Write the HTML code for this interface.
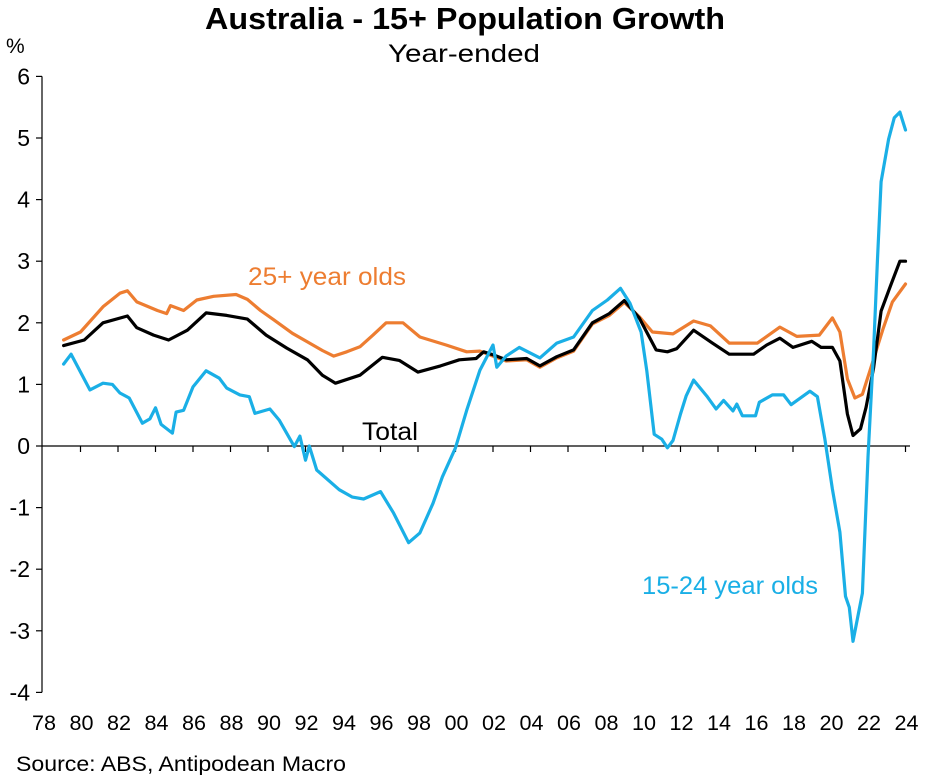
<!DOCTYPE html>
<html><head><meta charset="utf-8">
<style>
body{margin:0;background:#fff;}
svg{display:block;font-family:"Liberation Sans",Arial,sans-serif;}
</style></head>
<body>
<svg id="chart" width="930" height="775" viewBox="0 0 930 775" xmlns="http://www.w3.org/2000/svg">
<text x="465" y="29" text-anchor="middle" font-size="31" font-weight="bold" textLength="520" lengthAdjust="spacingAndGlyphs">Australia - 15+ Population Growth</text>
<text x="464" y="62" text-anchor="middle" font-size="25" textLength="152" lengthAdjust="spacingAndGlyphs">Year-ended</text>
<text x="6" y="53" font-size="21">%</text>
<g id="axes"></g>
<g id="series"></g>
<text x="248" y="285" font-size="25" fill="#ED7D31" textLength="158" lengthAdjust="spacingAndGlyphs">25+ year olds</text>
<text x="362" y="440" font-size="25" fill="#000" textLength="56" lengthAdjust="spacingAndGlyphs">Total</text>
<text x="642" y="594" font-size="25" fill="#1AAFE6" textLength="176" lengthAdjust="spacingAndGlyphs">15-24 year olds</text>
<text x="16" y="771" font-size="21" textLength="330" lengthAdjust="spacingAndGlyphs">Source: ABS, Antipodean Macro</text>
</svg>
<script>
const yTicks=[6,5,4,3,2,1,0,-1,-2,-3,-4];
const xTickYears=[1978,1980,1982,1984,1986,1988,1990,1992,1994,1996,1998,2000,2002,2004,2006,2008,2010,2012,2014,2016,2018,2020,2022,2024];
const xTickLabels=["78","80","82","84","86","88","90","92","94","96","98","00","02","04","06","08","10","12","14","16","18","20","22","24"];

const youthYears=[1979.1,1979.5,1980.5,1981.2,1981.7,1982.1,1982.6,1983.3,1983.7,1984.0,1984.3,1984.9,1985.1,1985.5,1986.0,1986.7,1987.4,1987.8,1988.5,1989.0,1989.3,1990.1,1990.6,1991.4,1991.7,1992.0,1992.2,1992.6,1993.8,1994.5,1995.1,1996.0,1996.7,1997.5,1998.1,1998.8,1999.3,2000.0,2000.6,2001.3,2002.0,2002.2,2002.7,2003.4,2004.5,2005.4,2006.3,2007.3,2008.1,2008.8,2009.3,2009.9,2010.2,2010.6,2011.0,2011.3,2011.6,2012.0,2012.3,2012.7,2013.4,2013.9,2014.3,2014.8,2015.0,2015.3,2016.0,2016.2,2016.9,2017.5,2017.9,2018.9,2019.3,2019.7,2020.1,2020.5,2020.8,2021.0,2021.2,2021.7,2022.0,2022.3,2022.5,2022.7,2023.1,2023.4,2023.7,2024.0];
const youthValues=[1.33,1.49,0.91,1.02,1.0,0.86,0.78,0.37,0.44,0.62,0.35,0.21,0.55,0.58,0.96,1.22,1.10,0.94,0.83,0.80,0.53,0.60,0.42,-0.01,0.16,-0.23,0.0,-0.39,-0.71,-0.83,-0.86,-0.74,-1.09,-1.57,-1.41,-0.93,-0.5,-0.03,0.58,1.23,1.64,1.28,1.46,1.6,1.43,1.67,1.77,2.2,2.37,2.56,2.32,1.85,1.22,0.19,0.11,-0.03,0.09,0.52,0.81,1.07,0.81,0.6,0.74,0.57,0.68,0.49,0.49,0.71,0.83,0.83,0.67,0.89,0.8,0.11,-0.7,-1.4,-2.44,-2.62,-3.17,-2.39,-0.18,1.56,3.0,4.29,4.98,5.33,5.42,5.13];

const adultYears=[1979.1,1980.0,1981.2,1982.1,1982.5,1983.0,1984.1,1984.6,1984.8,1985.5,1986.2,1987.1,1988.3,1988.9,1989.6,1990.3,1991.3,1992.1,1992.9,1993.5,1994.2,1994.9,1995.6,1996.3,1997.2,1998.1,1999.5,2000.6,2001.3,2002.0,2002.7,2003.8,2004.5,2005.4,2006.3,2007.3,2008.2,2009.0,2009.8,2010.5,2011.6,2012.7,2013.6,2014.6,2016.1,2017.3,2018.2,2019.4,2020.1,2020.5,2020.9,2021.3,2021.7,2022.1,2022.8,2023.3,2024.0];
const adultValues=[1.72,1.85,2.26,2.48,2.52,2.34,2.2,2.15,2.28,2.2,2.37,2.43,2.46,2.38,2.2,2.05,1.83,1.69,1.55,1.46,1.53,1.61,1.8,2.0,2.0,1.77,1.64,1.53,1.54,1.46,1.38,1.40,1.28,1.43,1.54,1.98,2.12,2.33,2.1,1.85,1.82,2.03,1.95,1.67,1.67,1.93,1.78,1.8,2.08,1.85,1.09,0.78,0.84,1.22,1.9,2.34,2.63];

const totalYears=[1979.1,1980.2,1981.2,1982.5,1983.0,1983.9,1984.7,1985.7,1986.7,1987.8,1988.9,1989.9,1991.0,1992.1,1992.9,1993.6,1994.9,1996.1,1997.0,1998.0,1999.2,2000.2,2001.1,2001.5,2002.0,2002.7,2003.8,2004.5,2005.4,2006.3,2007.3,2008.2,2009.0,2009.8,2010.7,2011.3,2011.8,2012.7,2013.7,2014.6,2015.9,2016.6,2017.3,2018.0,2019.0,2019.5,2020.1,2020.5,2020.9,2021.2,2021.6,2021.9,2022.3,2022.7,2023.2,2023.7,2024.0];
const totalValues=[1.63,1.72,2.0,2.11,1.92,1.8,1.72,1.88,2.16,2.12,2.06,1.8,1.59,1.4,1.15,1.02,1.15,1.44,1.39,1.2,1.3,1.4,1.42,1.53,1.48,1.4,1.42,1.3,1.45,1.56,2.0,2.15,2.36,2.08,1.56,1.53,1.58,1.88,1.67,1.49,1.49,1.64,1.75,1.6,1.7,1.6,1.6,1.38,0.52,0.17,0.28,0.63,1.27,2.19,2.6,3.0,3.0];

const NS="http://www.w3.org/2000/svg";
function xScale(t){return 43+(t-1978)*18.75;}
function yScale(v){return 446-v*61.6;}
const axes=document.getElementById('axes');
const series=document.getElementById('series');
function mk(tag,attrs,parent){const e=document.createElementNS(NS,tag);for(const k in attrs)e.setAttribute(k,attrs[k]);parent.appendChild(e);return e;}

const yAxis=mk('line',{x1:42,x2:42,y1:yScale(6),y2:yScale(-4),stroke:'#000','stroke-width':1.2},axes);


const xAxis=mk('line',{x1:42,x2:910,y1:yScale(0),y2:yScale(0),stroke:'#000','stroke-width':1.2},axes);



yTicks.forEach(v=>{
  const tk=mk('line',{x1:36,x2:42,y1:yScale(v),y2:yScale(v),stroke:'#000','stroke-width':1.2},axes);
  
  
  const lb=mk('text',{x:30,y:yScale(v)+8,'text-anchor':'end','font-size':23},axes);
  lb.textContent=String(v);
  
  
});
xTickYears.forEach((t,i)=>{
  if(i>0){
    const tk=mk('line',{x1:xScale(t),x2:xScale(t),y1:yScale(0),y2:yScale(0)+6,stroke:'#000','stroke-width':1.2},axes);
    
    
  }
  const lb=mk('text',{x:xScale(t)+1,y:730,'text-anchor':'middle','font-size':21,textLength:24,lengthAdjust:'spacingAndGlyphs'},axes);
  lb.textContent=xTickLabels[i];
  
  
});

function drawLine(ys,vs,color,name){
  const d=ys.map((t,i)=>(i?'L':'M')+xScale(t).toFixed(1)+' '+yScale(vs[i]).toFixed(1)).join(' ');
  const p=mk('path',{d:d,fill:'none',stroke:color,'stroke-width':3.2,'stroke-linejoin':'round','stroke-linecap':'round'},series);
  
  
}
drawLine(adultYears,adultValues,'#ED7D31','series-25-plus-line');
drawLine(totalYears,totalValues,'#000000','series-total-line');
drawLine(youthYears,youthValues,'#1AAFE6','series-15-24-line');
</script>
</body></html>
